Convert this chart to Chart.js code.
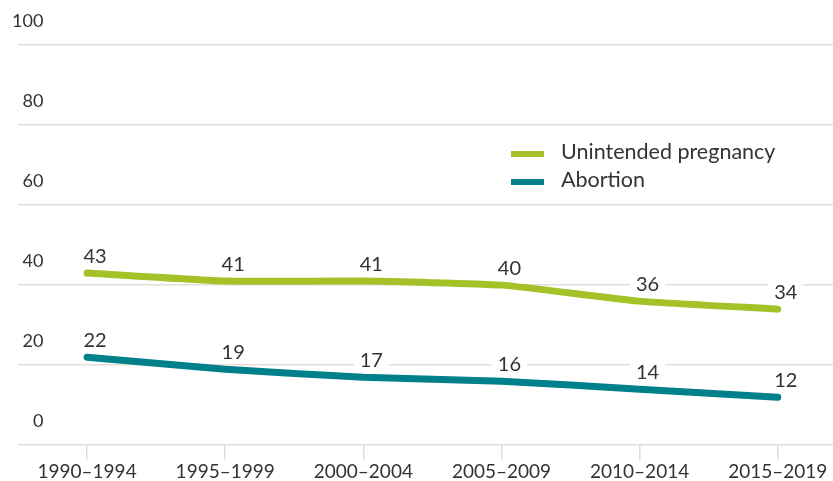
<!DOCTYPE html>
<html>
<head>
<meta charset="utf-8">
<script src="https://cdn.jsdelivr.net/npm/chart.js@4/dist/chart.umd.min.js"></script>
<style>
  html, body { margin: 0; padding: 0; background: #fff; overflow: hidden; }
  #wrap { position: relative; width: 833px; height: 481px; }
  .legend { position: absolute; left: 511px; font-family: Lato, sans-serif; font-size: 21.5px; color: #333; }
  .legend span.sw { display: inline-block; width: 33px; height: 6px; vertical-align: middle; margin-right: 17px; }
  .legend div { height: 28px; line-height: 28px; white-space: nowrap; }
</style>
</head>
<body>
<div id="wrap">
  <canvas id="c" width="833" height="481"></canvas>
  <div class="legend" style="top:137px">
    <div><span class="sw" style="background:#a4c227"></span>Unintended pregnancy</div>
    <div><span class="sw" style="background:#00808b"></span>Abortion</div>
  </div>
</div>
<script>
// periods on the x axis
const periods = ['1990–1994', '1995–1999', '2000–2004', '2005–2009', '2010–2014', '2015–2019'];
// rates per 1,000 women
const unintended = [43, 41, 41, 40, 36, 34];
const abortion = [22, 19, 17, 16, 14, 12];
const yTicks = [0, 20, 40, 60, 80, 100];

const GREEN = '#a4c227';
const TEAL = '#00808b';
const GRID = '#e6ddd7';
const TEXT = '#333333';

// value labels with white box behind them
const valueLabels = {
  id: 'valueLabels',
  afterDatasetsDraw(chart) {
    const ctx = chart.ctx;
    ctx.save();
    ctx.font = '20px Lato, sans-serif';
    ctx.textAlign = 'center';
    ctx.textBaseline = 'middle';
    chart.data.datasets.forEach((ds, i) => {
      chart.getDatasetMeta(i).data.forEach((pt, j) => {
        const txt = String(ds.data[j].y);
        const x = pt.x + 8, y = pt.y - 17;
        const w = ctx.measureText(txt).width + 12;
        ctx.fillStyle = '#fff';
        ctx.fillRect(x - w / 2, y - 11, w, 22);
        ctx.fillStyle = TEXT;
        ctx.fillText(txt, x, y);
      });
    });
    ctx.restore();
  }
};

const toPts = arr => arr.map((v, i) => ({ x: i, y: v }));

new Chart(document.getElementById('c'), {
  type: 'line',
  data: {
    datasets: [
      { label: 'Unintended pregnancy', data: toPts(unintended), borderColor: GREEN },
      { label: 'Abortion', data: toPts(abortion), borderColor: TEAL }
    ]
  },
  options: {
    responsive: false,
    animation: false,
    layout: { padding: { left: 18, top: 45, right: 0, bottom: -2 } },
    elements: {
      line: { borderWidth: 7, tension: 0.15, borderCapStyle: 'round', borderJoinStyle: 'round' },
      point: { radius: 0 }
    },
    plugins: { legend: { display: false }, tooltip: { enabled: false } },
    scales: {
      x: {
        type: 'linear',
        min: -0.5,
        max: 5.4,
        afterBuildTicks: s => { s.ticks = periods.map((p, i) => ({ value: i })); },
        ticks: {
          callback: v => periods[v],
          color: TEXT,
          font: { family: 'Lato, sans-serif', size: 19 },
          padding: 0,
          maxRotation: 0,
          autoSkip: false
        },
        grid: { drawOnChartArea: false, color: GRID, lineWidth: 1.5, tickLength: 15 },
        border: { display: false }
      },
      y: {
        min: 0,
        max: 100,
        afterBuildTicks: s => { s.ticks = yTicks.map(v => ({ value: v })); },
        ticks: {
          mirror: true,
          crossAlign: 'far',
          padding: -2,
          labelOffset: -24,
          color: TEXT,
          font: { family: 'Lato, sans-serif', size: 18 }
        },
        grid: { color: GRID, lineWidth: 1.5, drawTicks: false },
        border: { display: false }
      }
    }
  },
  plugins: [valueLabels]
});
</script>
</body>
</html>
